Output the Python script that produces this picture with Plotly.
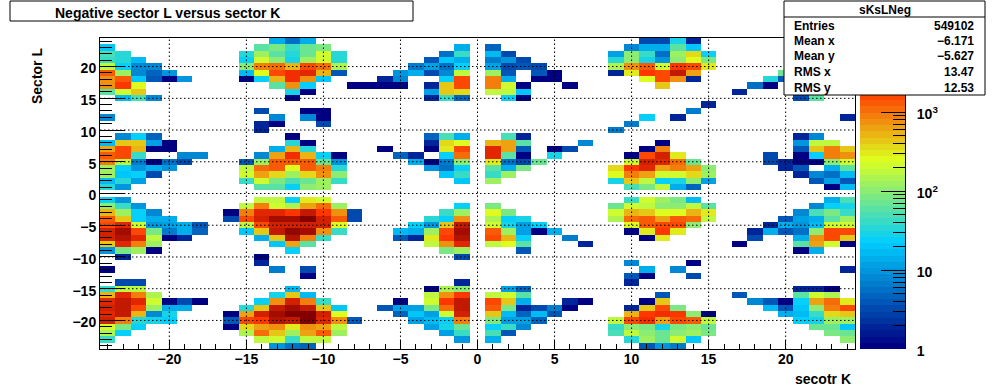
import math
import plotly.graph_objects as go

K_BINS = list(range(-24, 25))
L_BINS = list(range(-24, 25))

# (sector K, count) read row by row for each sector L
L24 = [(-13,14),(-12,6),(-11,14),(11,3),(12,3),(13,30),(14,2)]
L23 = [(-24,20),(-14,60),(-13,85),(-12,38),(-11,65),(-10,85),(-1,14),(1,5),(10,8),(11,14),(12,13),(13,60),(14,20)]
L22 = [(-24,50),(-23,34),(-15,35),(-14,130),(-13,60),(-12,34),(-11,70),(-10,230),(-9,34),(-2,6),(-1,45),(1,18),(2,3),(9,11),(10,110),(11,40),(12,6),(13,120),(14,350),(15,25)]
L21 = [(-24,45),(-23,32),(-22,16),(-15,22),(-14,230),(-13,100),(-12,30),(-11,120),(-10,230),(-9,34),(-3,4),(-2,20),(-1,15),(1,7),(2,10),(3,3),(9,32),(10,100),(11,30),(12,9),(13,110),(14,250),(15,90)]
L20 = [(-24,190),(-23,25),(-22,8),(-21,8),(-15,110),(-14,850),(-13,1000),(-12,500),(-11,1700),(-10,1000),(-9,140),(-4,7),(-3,12),(-2,6),(-1,22),(1,12),(2,3),(3,4),(4,3),(9,150),(10,700),(11,1400),(12,220),(13,1800),(14,1500),(15,280)]
L19 = [(-24,1300),(-23,120),(-22,8),(-21,5),(-20,9),(-15,18),(-14,240),(-13,1700),(-12,2300),(-11,2800),(-10,480),(-9,4),(-5,9),(-4,15),(-3,3),(-2,8),(-1,170),(1,130),(2,4),(4,4),(5,1),(9,2),(10,280),(11,1800),(12,1600),(13,3800),(14,650),(20,70)]
L18 = [(-24,800),(-23,1200),(-22,20),(-21,4),(-20,1),(-19,9),(-15,1),(-14,22),(-13,550),(-12,2100),(-11,700),(-10,20),(-6,2),(-5,8),(-2,24),(-1,1500),(1,850),(2,15),(4,1),(5,1),(11,240),(12,1500),(13,800),(14,2),(19,32),(20,4)]
L17 = [(-24,700),(-23,1800),(-22,250),(-13,55),(-12,800),(-11,25),(-8,1),(-7,1),(-6,1),(-5,1),(-3,2),(-2,400),(-1,1700),(1,850),(2,230),(3,1),(6,1),(12,400),(18,6),(19,1)]
L16 = [(-24,60),(-23,230),(-22,450),(-12,28),(-11,1),(-3,12),(-2,420),(-1,350),(1,180),(2,180),(3,20),(17,2)]
L15 = [(-23,18),(-22,50),(-21,8),(-12,1),(-3,2),(-2,45),(-1,5),(2,22),(3,1),(21,3),(22,55)]
L14 = [(15,2)]
L13 = [(-14,3),(-11,1),(-10,1),(14,7)]
L12 = [(-24,8),(-13,8),(-11,8),(-10,1),(11,22),(13,2),(24,2)]
L11 = [(-14,2),(-13,1),(-10,3),(10,7)]
L10 = [(-14,2),(9,7)]
L9 = [(-23,8),(-22,24),(-21,5),(-12,1),(-3,5),(-2,48),(-1,14),(2,48),(3,2),(21,2),(22,8)]
L8 = [(-24,18),(-23,450),(-22,420),(-21,12),(-20,1),(-12,32),(-11,1),(-3,2),(-2,380),(-1,240),(1,500),(2,650),(3,55),(7,8),(12,1),(21,10),(22,170),(23,170)]
L7 = [(-24,650),(-23,1700),(-22,480),(-21,1),(-20,1),(-13,14),(-12,500),(-11,32),(-6,1),(-3,1),(-2,320),(-1,1700),(1,2800),(2,650),(3,4),(5,1),(6,3),(11,1),(12,900),(21,4),(22,450),(23,850),(24,420)]
L6 = [(-24,1400),(-23,1500),(-22,40),(-19,8),(-18,8),(-14,8),(-13,600),(-12,2300),(-11,500),(-10,24),(-9,1),(-5,5),(-4,2),(-2,22),(-1,1100),(1,2800),(2,60),(3,1),(5,28),(10,1),(11,1500),(12,3500),(13,280),(19,3),(21,1),(22,26),(23,900),(24,800)]
L5 = [(-24,850),(-23,190),(-22,7),(-21,1),(-20,6),(-19,3),(-15,4),(-14,130),(-13,1400),(-12,1200),(-11,1400),(-10,70),(-9,9),(-4,13),(-3,1),(-2,7),(-1,110),(1,280),(2,6),(3,3),(4,65),(10,200),(11,3500),(12,2500),(13,1000),(14,70),(19,3),(20,2),(21,1),(22,1),(23,110),(24,210)]
L4 = [(-24,130),(-23,24),(-22,9),(-21,14),(-20,9),(-15,170),(-14,1000),(-13,1300),(-12,250),(-11,1400),(-10,850),(-9,35),(-3,10),(-2,6),(-1,22),(1,60),(2,14),(3,80),(9,380),(10,1800),(11,2800),(12,650),(13,850),(14,600),(15,110),(20,2),(21,4),(23,14),(24,55)]
L3 = [(-24,120),(-23,20),(-22,22),(-21,3),(-15,220),(-14,650),(-13,350),(-12,130),(-11,350),(-10,800),(-9,110),(-2,20),(-1,42),(1,42),(2,120),(9,260),(10,850),(11,650),(12,200),(13,200),(14,380),(15,120),(21,2),(22,8),(23,6),(24,18)]
L2 = [(-24,18),(-23,32),(-22,11),(-15,45),(-14,200),(-13,90),(-12,50),(-11,65),(-10,120),(-9,42),(-1,20),(1,130),(9,30),(10,400),(11,170),(12,22),(13,28),(14,110),(15,12),(22,4),(23,11),(24,4)]
L1 = [(-24,35),(-23,10),(-14,60),(-13,55),(-12,25),(-11,110),(-10,120),(10,50),(11,80),(12,170),(13,14),(14,5),(23,1),(24,16)]
L0 = []
Lm1 = [(-24,22),(-23,10),(-14,170),(-13,180),(-12,26),(-11,300),(-10,220),(10,45),(11,230),(12,120),(13,85),(14,17),(23,13),(24,50)]
Lm2 = [(-24,100),(-23,42),(-22,10),(-15,170),(-14,850),(-13,220),(-12,140),(-11,650),(-10,1000),(-9,120),(-1,24),(1,80),(9,70),(10,230),(11,180),(12,110),(13,100),(14,170),(15,55),(22,8),(23,26),(24,30)]
Lm3 = [(-24,500),(-23,130),(-22,24),(-21,8),(-16,1),(-15,950),(-14,2600),(-13,2800),(-12,1900),(-11,4000),(-10,2000),(-9,700),(-8,3),(-2,40),(-1,130),(1,240),(2,90),(9,230),(10,550),(11,450),(12,240),(13,260),(14,520),(15,280),(21,8),(22,50),(23,80),(24,45)]
Lm4 = [(-24,1300),(-23,420),(-22,24),(-21,14),(-20,14),(-16,3),(-15,1500),(-14,3500),(-13,5500),(-12,5500),(-11,7500),(-10,3000),(-9,1300),(-8,3),(-3,32),(-2,24),(-1,800),(1,140),(2,24),(3,30),(9,160),(10,1100),(11,1400),(12,650),(13,1300),(14,1100),(15,190),(20,4),(21,12),(22,14),(23,55),(24,120)]
Lm5 = [(-24,1700),(-23,2500),(-22,230),(-21,9),(-20,12),(-19,13),(-18,4),(-15,170),(-14,1600),(-13,3000),(-12,3500),(-11,3500),(-10,3000),(-9,240),(-4,26),(-3,10),(-2,400),(-1,4200),(1,230),(2,30),(3,12),(4,24),(10,240),(11,1400),(12,1500),(13,1500),(14,100),(19,2),(20,15),(21,9),(22,16),(23,200),(24,210)]
Lm6 = [(-24,3200),(-23,6000),(-22,1600),(-21,85),(-20,7),(-19,13),(-18,5),(-15,20),(-14,400),(-13,4200),(-12,6500),(-11,6000),(-10,700),(-9,40),(-5,18),(-4,14),(-3,130),(-2,1500),(-1,6000),(1,1400),(2,120),(3,12),(4,1),(5,14),(10,1),(11,320),(12,2000),(13,330),(18,2),(19,13),(20,4),(21,6),(22,110),(23,1500),(24,1700)]
Lm7 = [(-24,3200),(-23,5000),(-22,2600),(-21,190),(-20,1),(-19,2),(-14,13),(-13,450),(-12,4500),(-11,900),(-10,38),(-5,4),(-4,2),(-3,300),(-2,2000),(-1,4500),(1,1500),(2,480),(3,26),(6,7),(11,1),(12,280),(18,3),(21,15),(22,750),(23,1600),(24,450)]
Lm8 = [(-24,450),(-23,2500),(-22,900),(-21,120),(-13,20),(-12,650),(-11,55),(-3,170),(-2,750),(-1,2600),(1,170),(2,250),(3,55),(7,2),(17,1),(21,60),(22,650),(23,230),(24,1)]
Lm9 = [(-24,10),(-23,85),(-22,120),(-21,1),(-12,24),(-2,80),(-1,120),(3,4),(21,1),(22,13)]
Lm10 = [(-23,2),(-14,1),(-1,3)]
Lm11 = [(-14,2),(10,8),(14,1)]
Lm12 = [(-24,1),(-13,7),(-11,3),(11,14),(13,8),(24,2)]
Lm13 = [(-11,1),(10,4),(11,1),(14,3)]
Lm14 = [(-23,3),(-22,3),(-1,2),(10,2)]
Lm15 = [(-24,38),(-23,190),(-22,190),(-12,16),(-3,1),(-2,140),(-1,110),(2,12),(3,5),(21,2),(22,2),(23,1)]
Lm16 = [(-24,500),(-23,2500),(-22,850),(-21,140),(-13,28),(-12,400),(-11,18),(-3,170),(-2,700),(-1,1800),(1,190),(2,230),(3,55),(12,4),(17,4),(21,60),(22,230),(23,150)]
Lm17 = [(-24,2700),(-23,3700),(-22,2600),(-21,230),(-20,1),(-19,3),(-18,1),(-14,25),(-13,750),(-12,3500),(-11,850),(-10,38),(-5,1),(-3,230),(-2,1800),(-1,4000),(1,1500),(2,420),(3,14),(6,2),(7,1),(11,1),(12,450),(18,8),(19,4),(20,1),(21,26),(22,650),(23,1100),(24,280)]
Lm18 = [(-24,3300),(-23,3900),(-22,1500),(-21,130),(-20,13),(-19,13),(-15,35),(-14,420),(-13,4000),(-12,6000),(-11,4000),(-10,420),(-9,20),(-6,4),(-5,11),(-4,12),(-3,90),(-2,1100),(-1,4200),(1,1300),(2,90),(3,2),(4,3),(5,7),(6,1),(10,2),(11,420),(12,1700),(13,90),(19,18),(20,4),(21,20),(22,110),(23,950),(24,1600)]
Lm19 = [(-24,2800),(-23,4000),(-22,480),(-21,8),(-20,28),(-16,1),(-15,600),(-14,3000),(-13,5500),(-12,7500),(-11,7500),(-10,3200),(-9,240),(-5,5),(-4,21),(-3,12),(-2,230),(-1,3000),(1,420),(2,18),(3,5),(4,18),(5,4),(10,500),(11,2000),(12,2200),(13,2000),(14,110),(15,1),(20,14),(21,18),(22,40),(23,350),(24,450)]
Lm20 = [(-24,3000),(-23,900),(-22,32),(-21,30),(-20,22),(-16,4),(-15,1700),(-14,1900),(-13,5000),(-12,4000),(-11,8000),(-10,2800),(-9,800),(-8,4),(-4,12),(-3,18),(-2,22),(-1,850),(1,80),(2,11),(3,11),(4,5),(9,170),(10,1600),(11,2200),(12,650),(13,1500),(14,1300),(15,170),(21,26),(22,30),(23,130),(24,130)]
Lm21 = [(-24,220),(-23,80),(-22,22),(-16,1),(-15,380),(-14,650),(-13,800),(-12,320),(-11,750),(-10,650),(-9,190),(-3,11),(-2,30),(-1,65),(1,24),(2,38),(3,8),(9,40),(10,100),(11,85),(12,30),(13,80),(14,100),(15,70),(22,75),(23,65),(24,20)]
Lm22 = [(-24,150),(-23,24),(-15,140),(-14,1000),(-13,450),(-12,130),(-11,650),(-10,1300),(-9,130),(-2,12),(-1,38),(1,50),(2,4),(9,50),(10,190),(11,110),(12,65),(13,110),(14,130),(15,80),(23,90),(24,75)]
Lm23 = [(-24,45),(-14,170),(-13,230),(-12,45),(-11,170),(-10,170),(-1,9),(1,13),(10,35),(11,130),(12,65),(13,210),(14,20),(24,100)]
Lm24 = [(-13,9),(-12,6),(-11,5),(11,4),(12,9),(13,7)]

ROWS = [Lm24,Lm23,Lm22,Lm21,Lm20,Lm19,Lm18,Lm17,Lm16,Lm15,Lm14,Lm13,Lm12,Lm11,Lm10,Lm9,Lm8,Lm7,Lm6,Lm5,Lm4,Lm3,Lm2,Lm1,L0,
        L1,L2,L3,L4,L5,L6,L7,L8,L9,L10,L11,L12,L13,L14,L15,L16,L17,L18,L19,L20,L21,L22,L23,L24]

ZMAX = 3.94  # log10 of the palette top
TITLE = "Negative sector L versus sector K"
STATS_NAME = "sKsLNeg"
STATS_LABELS = ["Entries", "Mean x", "Mean y", "RMS x", "RMS y"]
STATS_VALUES = ["549102", "\u22126.171", "\u22125.627", "13.47", "12.53"]

# ROOT rainbow palette (stops, r, g, b), 50 flat bands
STOPS = [0, 0.34, 0.61, 0.84, 1]
RED = [0, 0, 0.87, 1, 0.51]
GREEN = [0, 0.81, 1, 0.2, 0]
BLUE = [0.51, 1, 0.12, 0, 0]
N = 50
def mix(t, ch):
    for a in range(4):
        if t <= STOPS[a + 1]:
            f = (t - STOPS[a]) / (STOPS[a + 1] - STOPS[a])
            return ch[a] + f * (ch[a + 1] - ch[a])
    return ch[-1]
scale = []
for n in range(N):
    t = n / (N - 1)
    c = f"rgb({round(255*mix(t,RED))},{round(255*mix(t,GREEN))},{round(255*mix(t,BLUE))})"
    scale += [[n / N, c], [(n + 1) / N, c]]

z = []
for row in ROWS:
    cells = [None] * len(K_BINS)
    for k, v in row:
        cells[k + 24] = math.log10(v)
    z.append(cells)

W, H = 805, 311
FONT = "Liberation Sans"
px = lambda x: (x - 100) / W
py = lambda y: (349 - y) / H

fig = go.Figure()
fig.add_trace(go.Heatmap(x=K_BINS, y=L_BINS, z=z, coloraxis="coloraxis", hoverongaps=False, xaxis="x", yaxis="y"))
levels = [(n + 0.5) * ZMAX / N for n in range(N)]
fig.add_trace(go.Heatmap(x=[0], y=levels, z=[[v] for v in levels], coloraxis="coloraxis", xaxis="x2", yaxis="y2"))

decades = [0, 1, 2, 3]
minors = [d + math.log10(m) for d in decades for m in range(2, 10) if d + math.log10(m) < ZMAX]
annots = []
def txt(x, y, s, size=12, anchor="left", **kw):
    annots.append(dict(x=px(x), y=py(y), xref="paper", yref="paper", text=s, showarrow=False,
                       xanchor=anchor, yanchor="middle", font=dict(family=FONT, size=size, color="black", weight="bold"), **kw))
txt(53, 13, TITLE, 14)
txt(885, 10, STATS_NAME, 12, "center")
for y, a, b in zip([26, 41, 56.5, 72, 88], STATS_LABELS, STATS_VALUES):
    txt(792, y, a)
    txt(976, y, b, 12, "right")
txt(853, 379, "secotr K", 14, "right")
txt(37, 76, "Sector L", 14, "center", textangle=-90)

shapes = []
dot = dict(color="black", width=1, dash="1.5px,2.5px")
for v in range(-20, 25, 5):
    shapes.append(dict(type="line", xref="x", yref="y", x0=v, x1=v, y0=-24.5, y1=24.5, line=dot))
    shapes.append(dict(type="line", xref="x", yref="y", x0=-24.5, x1=24.5, y0=v, y1=v, line=dot))
box = dict(color="black", width=1)
shapes.append(dict(type="rect", xref="paper", yref="paper", x0=px(10), x1=px(413), y0=py(21), y1=py(1), fillcolor="white", line=box))
shapes.append(dict(type="rect", xref="paper", yref="paper", x0=px(784), x1=px(985), y0=py(95), y1=py(1), fillcolor="white", line=box))
shapes.append(dict(type="line", xref="paper", yref="paper", x0=px(784), x1=px(985), y0=py(17), y1=py(17), line=box))

tickfont = dict(family=FONT, size=14, color="black", weight="bold")
fig.update_layout(
    width=1006, height=388, margin=dict(l=100, r=101, t=38, b=39),
    paper_bgcolor="white", plot_bgcolor="white", showlegend=False,
    coloraxis=dict(colorscale=scale, cmin=0, cmax=ZMAX, showscale=False),
    xaxis=dict(domain=[0, 755 / W], range=[-24.5, 24.5], tickvals=list(range(-20, 25, 5)), ticks="inside", ticklen=9, tickcolor="black",
               minor=dict(dtick=1, tick0=0, ticks="inside", ticklen=5, tickcolor="black"), showgrid=False, zeroline=False,
               showline=True, linecolor="black", linewidth=1, mirror=True, tickfont=tickfont, ticklabelstandoff=-3),
    yaxis=dict(domain=[0, 1], range=[-24.5, 24.5], tickvals=list(range(-20, 25, 5)), ticks="inside", ticklen=25, tickcolor="black",
               minor=dict(dtick=1, tick0=0, ticks="inside", ticklen=12, tickcolor="black"), showgrid=False, zeroline=False,
               showline=True, linecolor="black", linewidth=1, mirror=True, tickfont=tickfont, ticklabelshift=2),
    xaxis2=dict(domain=[760 / W, 1], range=[-0.5, 0.5], visible=False, anchor="y2"),
    yaxis2=dict(domain=[0, 1], range=[0, ZMAX], anchor="x2", side="right", tickmode="array", tickvals=decades,
                ticktext=["1", "10", "10<sup>2</sup>", "10<sup>3</sup>"], ticks="inside", ticklen=24, tickcolor="black",
                minor=dict(tickmode="array", tickvals=minors, ticks="inside", ticklen=12, tickcolor="black"),
                showgrid=False, zeroline=False, showline=True, linecolor="black", linewidth=1, tickfont=tickfont,
                ticklabelstandoff=8, ticklabelshift=2),
    shapes=shapes, annotations=annots,
)
fig.write_html("out.html", config={"displayModeBar": False},
               post_script="document.body.style.margin='0';document.documentElement.style.overflow='hidden';")
